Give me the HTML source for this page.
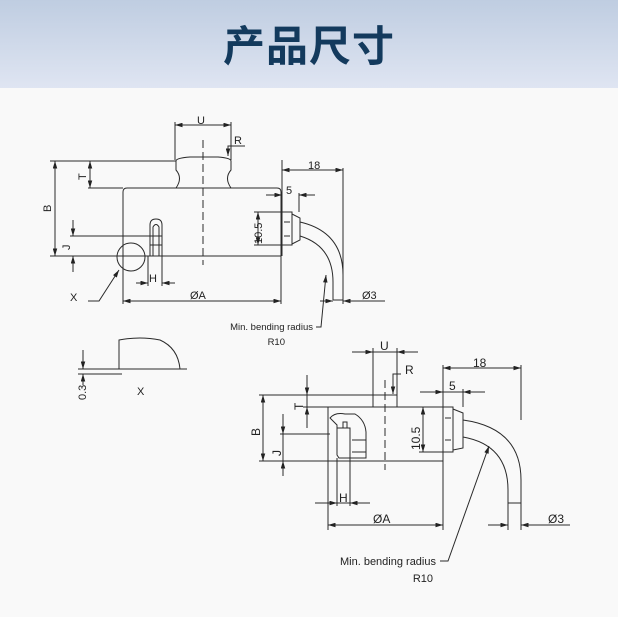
<!DOCTYPE html>
<html><head><meta charset="utf-8"><style>
html,body{margin:0;padding:0;}
body{width:618px;height:617px;background:#f9f9f9;overflow:hidden;position:relative;font-family:"Liberation Sans",sans-serif;}
.hd{position:absolute;left:0;top:0;width:618px;height:88px;background:linear-gradient(#bfcde1,#dfe5f2);}
.hd div{position:absolute;left:0;width:618px;top:18px;text-align:center;font:bold 42px "Noto Sans CJK SC",sans-serif;color:#133a5d;letter-spacing:1px;line-height:52px;}
svg{position:absolute;left:0;top:0;}
text{font-family:"Liberation Sans",sans-serif;fill:#222;}
</style></head><body>
<div class="hd"><div>产品尺寸</div></div>
<svg width="618" height="617" viewBox="0 0 618 617">
<defs>
<marker id="a" viewBox="0 0 10 6" refX="10" refY="3" markerWidth="9" markerHeight="4.5" orient="auto-start-reverse" markerUnits="userSpaceOnUse"><path d="M0,0L10,3L0,6Z" fill="#222"/></marker>
</defs>
<g stroke="#2a2a2a" stroke-width="1" fill="none">
<!-- Drawing 1 -->
<path d="M176,161 Q176,158 190,157 L218,157 Q231,158 231,161 L231,170 Q224,178 231,188 M176,161 L176,170 Q183,178 176,188"/>
<path d="M123,256 L123,192 Q123,188 127,188 L277,188 Q281,188 281,192 L281,256 Z"/>
<path d="M203,140 L203,265" stroke-dasharray="8,4"/>
<path d="M175,160 L175,122 M231,160 L231,122"/>
<path d="M175,125 L231,125" marker-start="url(#a)" marker-end="url(#a)"/>
<text x="197" y="124" font-size="11" stroke="none">U</text>
<path d="M245,146 L228,146 L228,156" marker-end="url(#a)"/>
<text x="234" y="144" font-size="11" stroke="none">R</text>
<path d="M50,161 L176,161 M50,256 L123,256 M88,188 L123,188 M70,236 L150,236"/>
<path d="M55,161 L55,256" marker-start="url(#a)" marker-end="url(#a)"/>
<text transform="translate(51,212) rotate(-90)" font-size="11" stroke="none">B</text>
<path d="M90,161 L90,188" marker-start="url(#a)" marker-end="url(#a)"/>
<text transform="translate(86,180) rotate(-90)" font-size="11" stroke="none">T</text>
<path d="M73,220 L73,236 M73,256 L73,272"/>
<path d="M73,228 L73,236" marker-end="url(#a)"/><path d="M73,264 L73,256" marker-end="url(#a)"/>
<text transform="translate(70,250) rotate(-90)" font-size="11" stroke="none">J</text>
<path d="M150,256 L150,225 Q150,219 156,219 Q162,219 162,225 L162,256 M153,256 L153,227 Q156,222 159,227 L159,256 M150,236 L162,236 M150,245 L162,245"/>
<circle cx="131" cy="257" r="14"/>
<path d="M145,256 L281,256"/>
<path d="M148,256 L148,286 M162,256 L162,286"/>
<path d="M136,283 L148,283" marker-end="url(#a)"/><path d="M175,283 L162,283" marker-end="url(#a)"/>
<text x="149" y="282" font-size="11" stroke="none">H</text>
<path d="M123,256 L123,304 M281,256 L281,304"/>
<path d="M123,301 L281,301" marker-start="url(#a)" marker-end="url(#a)"/>
<text x="190" y="299" font-size="11" stroke="none">ØA</text>
<text x="70" y="301" font-size="11" stroke="none">X</text>
<path d="M88,301 L99,301 L119,270" marker-end="url(#a)"/>
<path d="M282,212 L292,212 L292,245 L282,245 M292,214 L300,218 L300,240 L292,244 M284,222 L290,222 M284,236 L290,236"/>
<path d="M300,222 Q343,232 343,275 L343,300 M300,236 Q333,246 333,282 L333,300 M333,300 L343,300"/>
<path d="M282,160 L282,256 M343,168 L343,304 M299,193 L299,212"/>
<path d="M282,170 L343,170" marker-start="url(#a)" marker-end="url(#a)"/>
<text x="308" y="169" font-size="11" stroke="none">18</text>
<path d="M266,195 L282,195" marker-end="url(#a)"/><path d="M315,195 L299,195" marker-end="url(#a)"/>
<text x="286" y="194" font-size="11" stroke="none">5</text>
<path d="M254,212 L282,212 M254,245 L282,245"/>
<path d="M258,212 L258,245" marker-start="url(#a)" marker-end="url(#a)"/>
<text transform="translate(262,244) rotate(-90)" font-size="11" stroke="none">10.5</text>
<path d="M320,301 L333,301" marker-end="url(#a)"/><path d="M358,301 L343,301" marker-end="url(#a)"/>
<path d="M343,301 L385,301"/>
<text x="362" y="299" font-size="11" stroke="none">Ø3</text>
<text x="313" y="330" font-size="9.5" text-anchor="end" stroke="none">Min. bending radius</text>
<text x="285" y="345" font-size="9.5" text-anchor="end" stroke="none">R10</text>
<path d="M316,327 L321,327 L326,275" marker-end="url(#a)"/>
<!-- detail X -->
<path d="M78,369 L187,369 M78,374 L122,374"/>
<path d="M119,369 L119,340 Q140,336 160,340 Q178,348 180,369"/>
<path d="M83,350 L83,369" marker-end="url(#a)"/><path d="M83,385 L83,374" marker-end="url(#a)"/>
<text transform="translate(86,400) rotate(-90)" font-size="11" stroke="none">0.3</text>
<text x="137" y="395" font-size="11" stroke="none">X</text>
<!-- Drawing 2 -->
<path d="M328,461 L328,407 L443,407 L443,461 Z"/>
<path d="M373,407 L373,395 L397,395 L397,407"/>
<path d="M385,380 L385,470" stroke-dasharray="8,4"/>
<path d="M373,395 L373,348 M397,395 L397,348"/>
<path d="M352,352 L373,352" marker-end="url(#a)"/><path d="M418,352 L397,352" marker-end="url(#a)"/>
<path d="M373,352 L397,352"/>
<text x="380" y="350" font-size="12" stroke="none">U</text>
<path d="M401,374 L393,374 L393,394" marker-end="url(#a)"/>
<text x="405" y="374" font-size="12" stroke="none">R</text>
<path d="M259,395 L373,395 M259,461 L443,461 M303,407 L328,407 M280,434 L330,434"/>
<path d="M263,395 L263,461" marker-start="url(#a)" marker-end="url(#a)"/>
<text transform="translate(260,436) rotate(-90)" font-size="12" stroke="none">B</text>
<path d="M307,375 L307,395" marker-end="url(#a)"/><path d="M307,428 L307,407" marker-end="url(#a)"/>
<path d="M307,395 L307,407"/>
<text transform="translate(303,410) rotate(-90)" font-size="12" stroke="none">T</text>
<path d="M283,414 L283,434" marker-end="url(#a)"/><path d="M283,476 L283,461" marker-end="url(#a)"/>
<path d="M283,434 L283,461"/>
<text transform="translate(281,456) rotate(-90)" font-size="12" stroke="none">J</text>
<path d="M330,418 Q335,412 345,414 L355,414 Q365,420 366,432 L366,458 L339,458 L337,455 L337,425 Z M337,428 L350,428 L350,458 M343,428 L343,422 L347,422 L347,428 M352,440 L366,440 M352,452 L366,452"/>
<path d="M337,458 L337,506 M350,458 L350,506"/>
<path d="M315,503 L337,503" marker-end="url(#a)"/><path d="M370,503 L350,503" marker-end="url(#a)"/>
<path d="M337,503 L350,503"/>
<text x="339" y="502" font-size="12" stroke="none">H</text>
<path d="M328,461 L328,530 M443,461 L443,530"/>
<path d="M328,525 L443,525" marker-start="url(#a)" marker-end="url(#a)"/>
<text x="373" y="523" font-size="12" stroke="none">ØA</text>
<path d="M443,407 L453,407 L453,452 L443,452 M453,409 L463,413 L463,448 L453,450 M445,418 L451,418 M445,440 L451,440"/>
<path d="M463,420 Q521,428 521,480 L521,530 M463,437 Q508,445 508,490 L508,530 M508,503 L521,503"/>
<path d="M443,365 L443,407 M521,365 L521,420 M463,389 L463,407"/>
<path d="M443,368 L521,368" marker-start="url(#a)" marker-end="url(#a)"/>
<text x="473" y="367" font-size="12" stroke="none">18</text>
<path d="M420,392 L443,392" marker-end="url(#a)"/><path d="M485,392 L463,392" marker-end="url(#a)"/>
<path d="M443,392 L463,392"/>
<text x="449" y="390" font-size="12" stroke="none">5</text>
<path d="M419,407 L443,407 M419,452 L443,452"/>
<path d="M423,407 L423,452" marker-start="url(#a)" marker-end="url(#a)"/>
<text transform="translate(420,450) rotate(-90)" font-size="12" stroke="none">10.5</text>
<path d="M488,525 L508,525" marker-end="url(#a)"/><path d="M540,525 L521,525" marker-end="url(#a)"/>
<path d="M521,525 L570,525"/>
<text x="548" y="523" font-size="12" stroke="none">Ø3</text>
<text x="436" y="565" font-size="11" text-anchor="end" stroke="none">Min. bending radius</text>
<text x="433" y="582" font-size="11" text-anchor="end" stroke="none">R10</text>
<path d="M440,561 L448,561 L489,446" marker-end="url(#a)"/>
</g>
</svg>
</body></html>
